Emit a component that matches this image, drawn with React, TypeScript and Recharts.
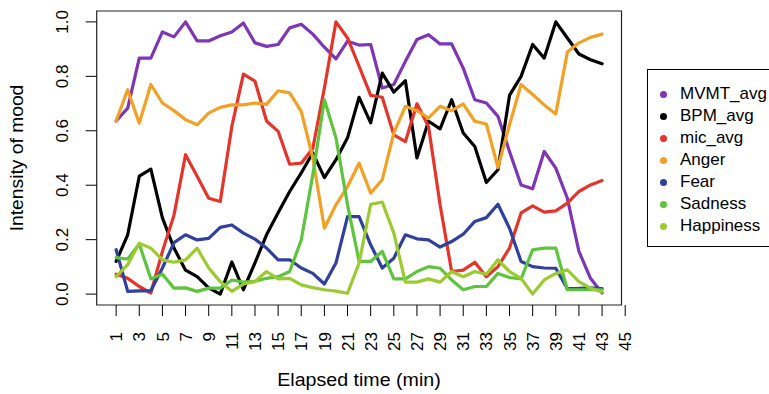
import React from 'react';
import { LineChart, Line, XAxis, YAxis, ReferenceArea } from 'recharts';

// minutes 1..43
const minutes = Array.from({ length: 43 }, (_, i) => i + 1);

const mvmtAvg = [0.636, 0.683, 0.867, 0.867, 0.963, 0.945, 1.0, 0.93, 0.93, 0.949, 0.963, 0.996, 0.923, 0.91, 0.917, 0.978, 0.991, 0.955, 0.907, 0.864, 0.929, 0.915, 0.917, 0.757, 0.77, 0.855, 0.935, 0.953, 0.919, 0.919, 0.83, 0.714, 0.702, 0.653, 0.524, 0.401, 0.387, 0.524, 0.463, 0.352, 0.157, 0.058, 0.004];
const bpmAvg = [0.12, 0.218, 0.433, 0.459, 0.28, 0.169, 0.088, 0.064, 0.023, 0.0, 0.118, 0.016, 0.115, 0.218, 0.299, 0.377, 0.445, 0.519, 0.428, 0.494, 0.574, 0.723, 0.629, 0.812, 0.742, 0.784, 0.5, 0.635, 0.607, 0.714, 0.592, 0.542, 0.41, 0.457, 0.73, 0.8, 0.917, 0.867, 1.0, 0.941, 0.882, 0.861, 0.846];
const micAvg = [0.073, 0.058, 0.028, 0.004, 0.157, 0.29, 0.512, 0.433, 0.352, 0.34, 0.616, 0.808, 0.782, 0.636, 0.598, 0.477, 0.481, 0.536, 0.757, 1.0, 0.941, 0.837, 0.73, 0.723, 0.585, 0.56, 0.699, 0.616, 0.328, 0.083, 0.088, 0.117, 0.064, 0.101, 0.169, 0.298, 0.324, 0.301, 0.306, 0.334, 0.377, 0.401, 0.417];
const anger = [0.636, 0.751, 0.628, 0.77, 0.702, 0.674, 0.641, 0.622, 0.665, 0.686, 0.695, 0.695, 0.702, 0.697, 0.747, 0.739, 0.671, 0.5, 0.242, 0.328, 0.395, 0.481, 0.371, 0.42, 0.592, 0.69, 0.674, 0.647, 0.69, 0.674, 0.699, 0.635, 0.625, 0.465, 0.622, 0.77, 0.733, 0.695, 0.662, 0.889, 0.923, 0.943, 0.955];
const fear = [0.163, 0.01, 0.012, 0.012, 0.096, 0.189, 0.218, 0.199, 0.205, 0.245, 0.254, 0.224, 0.202, 0.169, 0.126, 0.126, 0.096, 0.076, 0.037, 0.114, 0.285, 0.285, 0.181, 0.096, 0.132, 0.218, 0.203, 0.199, 0.173, 0.193, 0.22, 0.267, 0.281, 0.33, 0.242, 0.12, 0.101, 0.096, 0.095, 0.02, 0.021, 0.023, 0.02];
const sadness = [0.134, 0.129, 0.184, 0.056, 0.073, 0.022, 0.023, 0.01, 0.022, 0.022, 0.052, 0.044, 0.047, 0.058, 0.064, 0.083, 0.199, 0.439, 0.714, 0.574, 0.328, 0.12, 0.12, 0.157, 0.056, 0.056, 0.083, 0.101, 0.095, 0.052, 0.016, 0.028, 0.028, 0.076, 0.061, 0.056, 0.163, 0.169, 0.169, 0.016, 0.016, 0.016, 0.016];
const happiness = [0.064, 0.108, 0.187, 0.169, 0.126, 0.117, 0.126, 0.169, 0.096, 0.046, 0.01, 0.037, 0.046, 0.083, 0.056, 0.058, 0.034, 0.024, 0.016, 0.011, 0.003, 0.114, 0.33, 0.338, 0.224, 0.044, 0.044, 0.056, 0.044, 0.083, 0.064, 0.083, 0.073, 0.126, 0.083, 0.058, 0.0, 0.052, 0.076, 0.089, 0.046, 0.022, 0.008];

const xTicks = [1, 3, 5, 7, 9, 11, 13, 15, 17, 19, 21, 23, 25, 27, 29, 31, 33, 35, 37, 39, 41, 43, 45];
const yTicks = [0, 0.2, 0.4, 0.6, 0.8, 1.0];

const series = [
  { key: 'MVMT_avg', values: mvmtAvg, color: '#7E36B6' },
  { key: 'BPM_avg', values: bpmAvg, color: '#000000' },
  { key: 'mic_avg', values: micAvg, color: '#E5352B' },
  { key: 'Anger', values: anger, color: '#F4A025' },
  { key: 'Fear', values: fear, color: '#2F409D' },
  { key: 'Sadness', values: sadness, color: '#5DC53C' },
  { key: 'Happiness', values: happiness, color: '#9CCB30' },
];

const data = minutes.map((m, i) => {
  const row: Record<string, number> = { minute: m };
  series.forEach((s) => {
    row[s.key] = s.values[i];
  });
  return row;
});

const FONT = '"Liberation Sans", Arial, sans-serif';

function XTick(props: any) {
  const { x, y, payload } = props;
  return (
    <text
      x={x}
      y={y}
      transform={`rotate(-90 ${x} ${y})`}
      textAnchor="end"
      dy="0.36em"
      fontSize={17}
      fontFamily={FONT}
      fill="#000"
    >
      {payload.value}
    </text>
  );
}

function YTick(props: any) {
  const { y, payload } = props;
  const x = 68;
  return (
    <text
      x={x}
      y={y}
      transform={`rotate(-90 ${x} ${y})`}
      textAnchor="middle"
      fontSize={17}
      fontFamily={FONT}
      fill="#000"
    >
      {payload.value.toFixed(1)}
    </text>
  );
}

function LegendBox() {
  return (
    <div
      style={{
        position: 'absolute',
        left: 647,
        top: 69,
        width: 130,
        height: 178,
        border: '1px solid #000',
        boxSizing: 'border-box',
        fontFamily: FONT,
        fontSize: 17,
        background: '#fff',
      }}
    >
      {series.map((s, i) => (
        <div
          key={s.key}
          style={{
            position: 'absolute',
            left: 0,
            top: 24 + i * 22.07 - 11,
            height: 22,
            lineHeight: '22px',
            whiteSpace: 'nowrap',
          }}
        >
          <span
            style={{
              position: 'absolute',
              left: 12,
              top: 8,
              width: 7,
              height: 7,
              borderRadius: '50%',
              background: s.color,
            }}
          />
          <span style={{ position: 'absolute', left: 32, top: 0 }}>{s.key}</span>
        </div>
      ))}
    </div>
  );
}

export default function App() {
  return (
    <div style={{ position: 'absolute', left: 0, top: 0, width: 769, height: 394, background: '#fff', overflow: 'hidden' }}>
      <LineChart width={769} height={394} data={data} margin={{ top: 11, right: 147.5, left: 0, bottom: 0 }}>
        <XAxis
          dataKey="minute"
          type="number"
          domain={[-0.68, 44.68]}
          allowDataOverflow
          ticks={xTicks}
          interval={0}
          height={89}
          tickSize={11}
          tickMargin={16}
          axisLine={false}
          tickLine={{ stroke: '#000', strokeWidth: 1 }}
          tick={<XTick />}
        />
        <YAxis
          type="number"
          domain={[-0.04, 1.04]}
          allowDataOverflow
          ticks={yTicks}
          interval={0}
          width={96.7}
          tickSize={11}
          axisLine={false}
          tickLine={{ stroke: '#000', strokeWidth: 1 }}
          tick={<YTick />}
        />
        <ReferenceArea x1={-0.68} x2={44.68} y1={-0.04} y2={1.04} fill="none" stroke="#222" strokeWidth={1.2} />
        {series.map((s) => (
          <Line
            key={s.key}
            type="linear"
            dataKey={s.key}
            stroke={s.color}
            strokeWidth={3.2}
            dot={false}
            strokeLinejoin="round"
            strokeLinecap="round"
            isAnimationActive={false}
          />
        ))}
      </LineChart>
      <LegendBox />
      <div
        style={{
          position: 'absolute',
          left: 0,
          top: 370,
          width: 718,
          textAlign: 'center',
          fontFamily: FONT,
          fontSize: 17.5,
          lineHeight: '20px',
          transform: 'scaleX(1.12)',
          transformOrigin: '359px 10px',
        }}
      >
        Elapsed time (min)
      </div>
      <div
        style={{
          position: 'absolute',
          left: 17 - 150,
          top: 158 - 10,
          width: 300,
          height: 20,
          lineHeight: '20px',
          textAlign: 'center',
          transform: 'rotate(-90deg) scaleX(1.1)',
          fontFamily: FONT,
          fontSize: 17.5,
        }}
      >
        Intensity of mood
      </div>
    </div>
  );
}
